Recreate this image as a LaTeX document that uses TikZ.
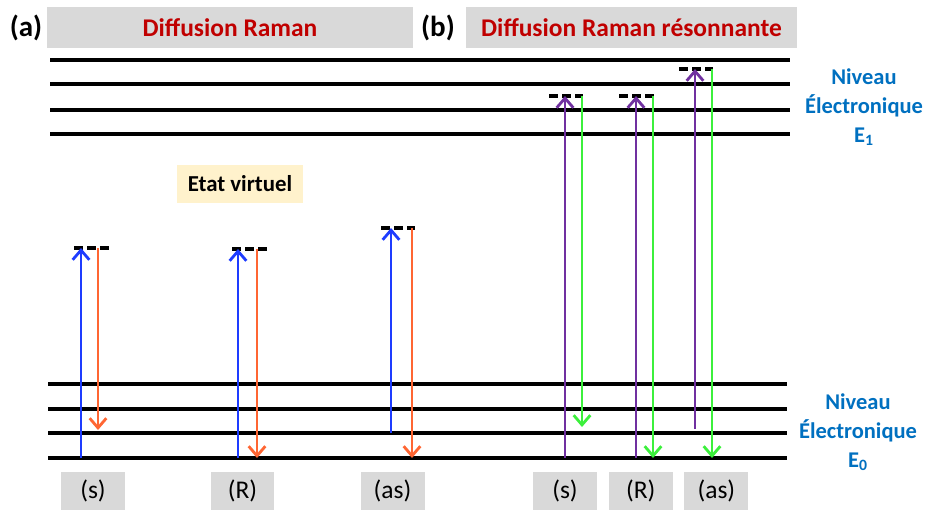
\documentclass[tikz,border=0pt]{standalone}
\usepackage{fontspec}
\setmainfont{Carlito}
\usetikzlibrary{arrows.meta,positioning}
\definecolor{titlered}{RGB}{192,0,0}
\definecolor{levelblue}{RGB}{0,112,192}
\definecolor{boxgray}{RGB}{217,217,217}
\definecolor{virtyellow}{RGB}{255,242,204}
\definecolor{exblue}{RGB}{30,60,255}
\definecolor{emorange}{RGB}{255,102,51}
\definecolor{expurple}{RGB}{112,48,160}
\definecolor{emgreen}{RGB}{60,240,60}

\begin{document}
\begin{tikzpicture}
  [x=0.02cm, y=-0.02cm,
   level/.style = {line width=1.9pt},
   virt/.style = {line width=1.9pt, dash pattern=on 5.1pt off 2.3pt},
   photon/.style = {line width=1.6pt, -{Straight Barb[length=5.5pt,width=9.5pt,line width=1.6pt]}},
   titlebox/.style = {fill=boxgray, minimum height=0.82cm, text=titlered, font=\fontsize{14.5}{17}\bfseries},
   panel/.style = {font=\fontsize{16.5}{19}\bfseries},
   casebox/.style = {fill=boxgray, minimum width=1.28cm, minimum height=0.76cm, font=\fontsize{14.5}{16}\selectfont},
   niveau/.style = {text=levelblue, align=center, font=\fontsize{12.8}{16.5}\bfseries}]
  \useasboundingbox (0,0) rectangle (929,511);

  % titles
  \node (ta) [titlebox, minimum width=7.32cm] at (230,27.5) {Diffusion Raman};
  \node (tb) [titlebox, minimum width=6.62cm] at (631.5,27.5) {Diffusion Raman résonnante};
  \node (pa) [panel] at (26,28) {(a)};
  \node (pb) [panel] at (438,28) {(b)};

  % electronic levels
  \foreach \y in {60,84,110,134}
    \draw[level] (50,\y) -- (790,\y);
  \foreach \y in {384,409,433,458}
    \draw[level] (48,\y) -- (787,\y);

  \node (e1) [niveau] at (864,107) {Niveau\\Électronique\\E\textsubscript{1}};
  \node (e0) [niveau] at (858,432) {Niveau\\Électronique\\E\textsubscript{0}};

  \node (virt) [fill=virtyellow, minimum width=2.52cm, minimum height=0.76cm,
    font=\fontsize{13}{15}\bfseries] at (240,184) {Etat virtuel};

  % virtual levels
  \draw[virt] (74,248) -- (109,248);
  \draw[virt] (232,249) -- (267,249);
  \draw[virt] (381,228) -- (415,228);
  \draw[virt] (549,96) -- (583,96);
  \draw[virt] (619,96) -- (654,96);
  \draw[virt] (679,69) -- (713,69);

  % (a) Raman
  \coordinate (as0) at (81,458);  \coordinate (as1) at (81,248);
  \coordinate (es0) at (98,248);  \coordinate (es1) at (98,430);
  \coordinate (aR0) at (238,458); \coordinate (aR1) at (238,249);
  \coordinate (eR0) at (257,249); \coordinate (eR1) at (257,458);
  \coordinate (aas0) at (391,433); \coordinate (aas1) at (391,228);
  \coordinate (eas0) at (412,228); \coordinate (eas1) at (412,458);
  \draw[photon, exblue] (as0) -- (as1);
  \draw[photon, emorange] (es0) -- (es1);
  \draw[photon, exblue] (aR0) -- (aR1);
  \draw[photon, emorange] (eR0) -- (eR1);
  \draw[photon, exblue] (aas0) -- (aas1);
  \draw[photon, emorange] (eas0) -- (eas1);

  % (b) resonant Raman
  \coordinate (bs0) at (565,458);  \coordinate (bs1) at (565,96);
  \coordinate (fs0) at (582,96);   \coordinate (fs1) at (582,427);
  \coordinate (bR0) at (636,458);  \coordinate (bR1) at (636,96);
  \coordinate (fR0) at (653,96);   \coordinate (fR1) at (653,458);
  \coordinate (bas0) at (695,429); \coordinate (bas1) at (695,69);
  \coordinate (fas0) at (712,69);  \coordinate (fas1) at (712,458);
  \draw[photon, expurple] (bs0) -- (bs1);
  \draw[photon, emgreen] (fs0) -- (fs1);
  \draw[photon, expurple] (bR0) -- (bR1);
  \draw[photon, emgreen] (fR0) -- (fR1);
  \draw[photon, expurple] (bas0) -- (bas1);
  \draw[photon, emgreen] (fas0) -- (fas1);

  % cases
  \node (cs) [casebox] at (93,491) {(s)};
  \node (cR) [casebox] at (242.5,491) {(R)};
  \node (cas) [casebox] at (392.5,491) {(as)};
  \node (ds) [casebox] at (565,491) {(s)};
  \node (dR) [casebox, right=0.22cm of ds] {(R)};
  \node (das) [casebox, right=0.22cm of dR] {(as)};
\end{tikzpicture}
\end{document}
